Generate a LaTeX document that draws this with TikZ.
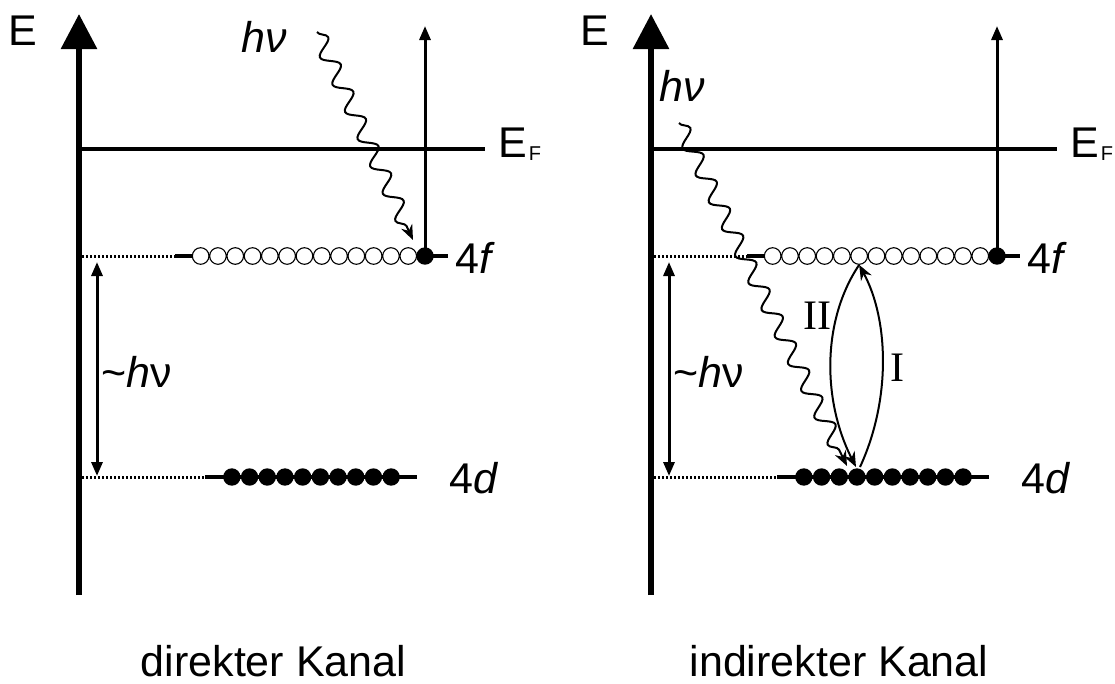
\documentclass[tikz,border=0pt]{standalone}
\usepackage{fontspec}
\setmainfont{Liberation Sans}
\newfontfamily\romanI{Liberation Serif}
\usetikzlibrary{arrows.meta,decorations.pathmorphing}
\begin{document}
\begin{tikzpicture}[x=1pt,y=-1pt,
  lbl/.style={font=\fontsize{43}{50}\selectfont, inner sep=0pt},
  rlbl/.style={font=\romanI\fontsize{42}{48}\selectfont, inner sep=0pt},
  axisline/.style={line width=6pt, -{Triangle[length=35pt,width=35pt]}},
  levelline/.style={line width=3.3pt},
  dotline/.style={line width=3pt, dash pattern=on 2.4pt off 1.6pt},
  ocirc/.style={circle, draw, fill=white, line width=1.1pt, minimum size=16.6pt, inner sep=0pt},
  fcirc/.style={circle, fill=black, minimum size=17.4pt, inner sep=0pt},
  vecarrow/.style={line width=3pt, -{Triangle[length=14pt,width=11pt]}},
  dblarrow/.style={line width=3pt, {Triangle[length=14pt,width=11pt]}-{Triangle[length=14pt,width=11pt]}},
  photon/.style={line width=2pt, decorate, decoration={snake, segment length=30pt, amplitude=8pt, post length=14pt}, -{Stealth[length=15pt,width=12pt]}},
  trans/.style={line width=2pt, -{Stealth[length=15pt,width=12pt]}},
]
\useasboundingbox (0,0) rectangle (1115,683);

\foreach \p/\dx in {L/0,R/572}{
  % axis
  \coordinate (axb\p) at ({79+\dx},595);
  \coordinate (axt\p) at ({79+\dx},14);
  \draw[axisline] (axb\p) -- (axt\p);
  \node[lbl] (E\p) at ({23+\dx},31) {E};
  % Fermi level
  \coordinate (efa\p) at ({82+\dx},149);
  \coordinate (efb\p) at ({485+\dx},149);
  \draw[levelline] (efa\p) -- (efb\p);
  \node[lbl, anchor=base west] (EF\p) at ({498+\dx},157) {E\kern2pt\raisebox{-3pt}{\fontsize{20}{20}\selectfont F}};
  % 4f level
  \coordinate (fa\p) at ({82+\dx},256);
  \coordinate (fb\p) at ({175+\dx},256);
  \coordinate (fc\p) at ({448+\dx},256);
  \draw[dotline] (fa\p) -- (fb\p);
  \draw[levelline] (fb\p) -- (fc\p);
  \foreach \i in {0,...,12}{
    \node[ocirc] (f\p\i) at ({200.65+17.3*\i+\dx},256) {};
  }
  \node[fcirc] (ff\p) at ({425+\dx},256) {};
  \node[lbl, anchor=base west] (l4f\p) at ({455+\dx},273) {4\textit{f}};
  % 4d level
  \coordinate (da\p) at ({82+\dx},477);
  \coordinate (db\p) at ({205+\dx},477);
  \coordinate (dc\p) at ({417+\dx},477);
  \draw[dotline] (da\p) -- (db\p);
  \draw[levelline] (db\p) -- (dc\p);
  \foreach \i in {0,...,9}{
    \node[fcirc] (d\p\i) at ({231.85+17.7*\i+\dx},477) {};
  }
  \node[lbl, anchor=base west] (l4d\p) at ({449+\dx},493) {4\textit{d}};
  % emission arrow
  \coordinate (vt\p) at ({425+\dx},26);
  \draw[vecarrow] (ff\p.center) -- (vt\p);
  % energy difference
  \coordinate (ha\p) at ({97+\dx},262);
  \coordinate (hb\p) at ({97+\dx},476);
  \draw[dblarrow] (ha\p) -- (hb\p);
  \node[lbl, anchor=base west] (hv\p) at ({101+\dx},387) {\textasciitilde\textit{h}ν};
}
\node[lbl, anchor=base west, font=\fontsize{43}{50}\selectfont\itshape] (hnuL) at (241,52) {hν};
\node[lbl, anchor=base west, font=\fontsize{43}{50}\selectfont\itshape] (hnuR) at (659,101) {hν};

% photons
\coordinate (pL0) at (317,32);
\coordinate (pL1) at (413,240);
\draw[photon] (pL0) -- (pL1);
\coordinate (pR0) at (679,123);
\coordinate (pR1) at (847,466);
\draw[photon] (pR0) -- (pR1);

% transitions I and II
\coordinate (iBot) at (860,467);
\coordinate (iTop) at (fR5.south);
\draw[trans] (iBot) .. controls (891,400) and (889,320) .. (iTop);
\coordinate (iiEnd) at (856,467);
\draw[trans] (iTop) .. controls (822,320) and (822,400) .. (iiEnd);
\node[rlbl] (II) at (817,316) {II};
\node[rlbl] (I) at (897,368) {I};

% captions
\node[lbl, anchor=base] (capL) at (273.5,676) {direkter Kanal};
\node[lbl, anchor=base] (capR) at (839,676) {indirekter Kanal};
\end{tikzpicture}
\end{document}
